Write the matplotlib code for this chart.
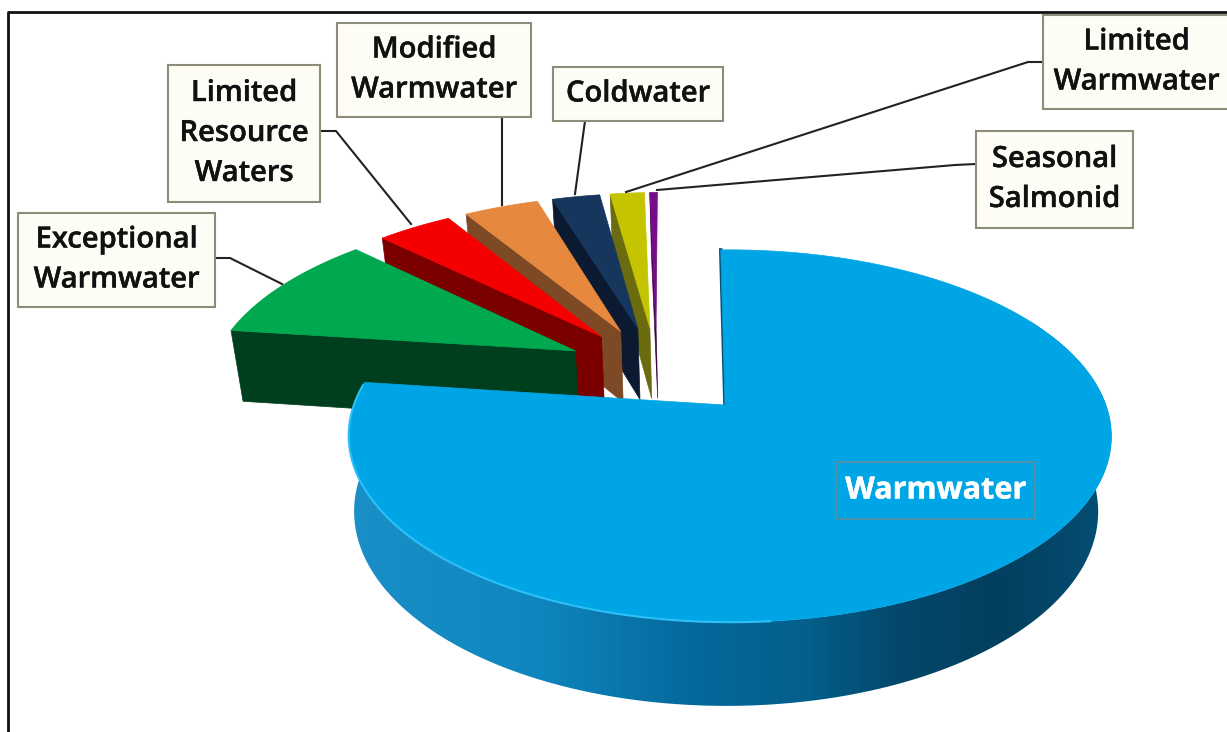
# plot.py - exploded 3D looking pie of aquatic life use designations
import numpy as np
import matplotlib
matplotlib.use("Agg")
import matplotlib.pyplot as plt
import matplotlib.patheffects as pe
from matplotlib.colors import LinearSegmentedColormap
from matplotlib.patches import Polygon, Rectangle

# -----------------------------
# DATA
# -----------------------------
names = ["Warmwater", "Exceptional\nWarmwater", "Limited\nResource\nWaters",
         "Modified\nWarmwater", "Coldwater", "Limited\nWarmwater",
         "Seasonal\nSalmonid"]
shares = [77.3, 10.0, 3.9, 3.9, 2.5, 1.8, 0.4]
top_colors = ["#00a5e6", "#00a84f", "#f50000", "#e6883d", "#17365d", "#c4c400", "#7a0a8c"]
wall_colors = ["#0a6f9f", "#003f1e", "#7a0000", "#7d4a25", "#0b1a30", "#6b6b10", "#3c0640"]

# label boxes: left, top, right, bottom in pixels
boxes = [(836, 462, 1035, 519), (18, 213, 215, 307), (168, 65, 320, 202),
         (337, 23, 531, 117), (553, 67, 723, 121), (1043, 15, 1230, 109),
         (976, 131, 1133, 228)]
leaders = [None,
           [(215, 258), (230, 258), (282, 284)],
           [(320, 131), (336, 131), (411, 224)],
           [(502, 117), (502, 205)],
           [(585, 121), (575, 194)],
           [(1043, 62), (1028, 62), (626, 192)],
           [(976, 164), (955, 165), (657, 190)]]

# -----------------------------
# PROJECTION OF THE DISC
# -----------------------------
CX, CY = 725, 405
B, A, D = 376, 181, 76
K, M = 0.1667, 0.025
EXPLODE = 0.256
ROT = -1.5
BIG_SHIFT = 0.013  # big slice outline sits a bit right of its apex
SMALL_DU, SMALL_DV = -0.016, -0.015  # nudge of the small slices


def project(u, v, h=0.0):
    w = 1 - K * v
    s = 1 + M * h
    return CX + B * u / w / s, CY + (A * v + D * h) / w / s


def direction(theta):
    t = np.radians(theta)
    return np.sin(t), -np.cos(t)


def arc(origin, t0, t1, h=0.0, n=120):
    th = np.linspace(t0, t1, n)
    du, dv = direction(th)
    return np.column_stack(project(origin[0] + du, origin[1] + dv, h))


edges = ROT + np.concatenate([[0], np.cumsum(shares)]) * 360 / sum(shares)
mids = (edges[:-1] + edges[1:]) / 2
d0 = direction(mids[0])
center = (-EXPLODE * d0[0] + SMALL_DU, -EXPLODE * d0[1] + SMALL_DV)

fig = plt.figure(figsize=(12.27, 7.32), dpi=100)
ax = fig.add_axes([0, 0, 1, 1])
ax.set_xlim(0, 1227)
ax.set_ylim(732, 0)
ax.axis("off")

# frame, only top and left are visible in the screenshot
ax.plot([8, 8, 1227], [732, 12, 12], color="#111111", lw=2, zorder=1)

# -----------------------------
# SMALL SLICES, BACK TO FRONT
# -----------------------------
for i in range(len(shares) - 1, 0, -1):
    d = direction(mids[i])
    org = (center[0] + EXPLODE * d[0], center[1] + EXPLODE * d[1])
    top = arc(org, edges[i], edges[i + 1])
    low = arc(org, edges[i], edges[i + 1], h=1)
    apex = np.array(project(org[0], org[1]))
    apex_low = np.array(project(org[0], org[1], 1))
    z = 10 + (len(shares) - i) * 2
    # only the radial wall on the start side faces the viewer
    ax.add_patch(Polygon([apex, top[0], low[0], apex_low], closed=True,
                         fc=wall_colors[i], ec=wall_colors[i], lw=0.5, zorder=z))
    ax.add_patch(Polygon(np.vstack([[apex], top]), closed=True,
                         fc=top_colors[i], ec=top_colors[i], lw=0.5, zorder=z + 1))

# -----------------------------
# BIG SLICE
# -----------------------------
big = (BIG_SHIFT, 0)
top = arc(big, edges[0], edges[1], n=300)
side_top = arc(big, 60, edges[1], n=200)
side_low = arc((BIG_SHIFT - 0.01, 0), 60, edges[1], h=1, n=200)
side = Polygon(np.vstack([side_top, side_low[::-1]]), closed=True, fc="none", ec="none", zorder=30)
ax.add_patch(side)

cmap = LinearSegmentedColormap.from_list(
    "rim", [(0, "#1a8fc8"), (0.25, "#0f86bd"), (0.45, "#04699c"), (0.6, "#045f8c"),
            (0.72, "#03486b"), (0.85, "#033f5e"), (1, "#044f75")])
grad = ax.imshow(np.linspace(0, 1, 256).reshape(1, -1), cmap=cmap, aspect="auto",
                 extent=(345, 1115, 732, 300), zorder=30)
grad.set_clip_path(side)
ax.set_xlim(0, 1227)
ax.set_ylim(732, 0)

apex = project(0, 0)
ax.plot([apex[0], top[0][0]], [apex[1] + 2, top[0][1]], color="#064f73", lw=2.5, zorder=31)
ax.add_patch(Polygon(np.vstack([[apex], top]), closed=True, fc=top_colors[0],
                     ec=top_colors[0], lw=0.5, zorder=32))
rim = arc(big, 175, edges[1] - 1, n=200)
ax.plot(rim[:, 0], rim[:, 1], color="#2cc0f7", lw=1.5, zorder=33)

# -----------------------------
# LABELS
# -----------------------------
for i, name in enumerate(names):
    x0, y0, x1, y1 = boxes[i]
    white = i == 0
    color = "white" if white else "#111111"
    ax.add_patch(Rectangle((x0, y0), x1 - x0, y1 - y0,
                           fc="none" if white else "#fdfdf6",
                           ec="#4a93a8" if white else "#8c8c78", lw=1.5, zorder=40))
    txt = ax.text((x0 + x1) / 2, (y0 + y1) / 2, name, ha="center", va="center",
                  family="Open Sans", weight="bold" if white else "semibold",
                  fontsize=22 if white else 21, linespacing=1.5,
                  color=color, zorder=41)
    txt.set_path_effects([pe.withStroke(linewidth=0.3, foreground=color)])
    if leaders[i]:
        xs, ys = zip(*leaders[i])
        ax.plot(xs, ys, color="#222222", lw=1.5, zorder=39)

fig.savefig("out.png", dpi=100, facecolor="white")
